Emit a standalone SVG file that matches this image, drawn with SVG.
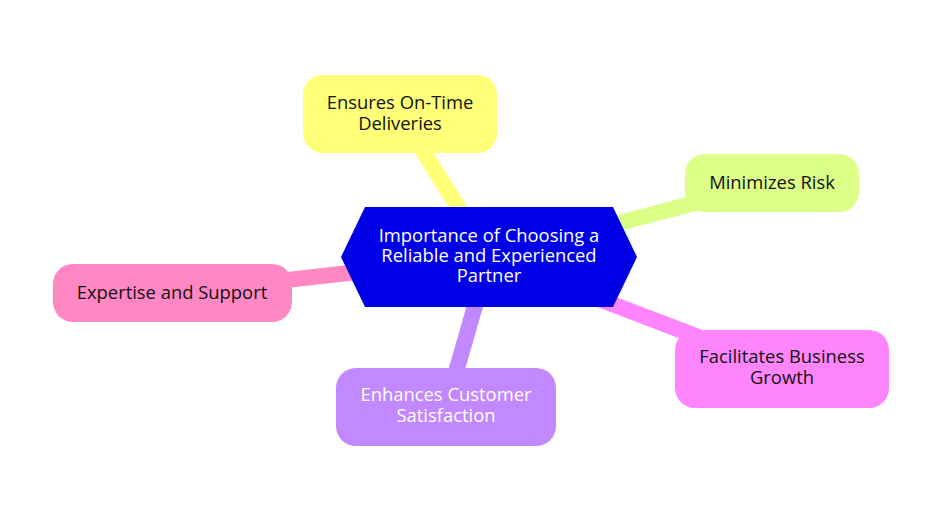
<svg xmlns="http://www.w3.org/2000/svg" width="948" height="518" viewBox="0 0 948 518">
<style>
  .edge { fill: none; stroke-linecap: butt; stroke-width: 16; }
  .lbl { font-family: "Open Sans", "Noto Sans", sans-serif; font-size: 18.4px; text-anchor: middle; fill: #111; }
  .light { fill: #fff; }
</style>
<rect width="948" height="518" fill="#fff"/>
<g id="connectors">
  <line class="edge" x1="489" y1="257" x2="400" y2="114" stroke="#ffff78"/>
  <line class="edge" x1="489" y1="257" x2="772" y2="183" stroke="#dcff87"/>
  <line class="edge" x1="489" y1="257" x2="782" y2="369" stroke="#ff85ff"/>
  <line class="edge" x1="489" y1="257" x2="446" y2="407" stroke="#c288ff"/>
  <line class="edge" x1="489" y1="257" x2="172" y2="293" stroke="#ff88c4"/>
</g>
<g id="root">
  <polygon points="341,257 365,207 613,207 637,257 613,307 365,307" fill="#0000e6"/>
  <text class="lbl light" x="489" y="242">Importance of Choosing a</text>
  <text class="lbl light" x="489" y="262">Reliable and Experienced</text>
  <text class="lbl light" x="489" y="282">Partner</text>
</g>
<g id="n-deliveries">
  <rect x="303" y="75" width="194" height="78" rx="20" fill="#ffff78"/>
  <text class="lbl" x="400" y="109">Ensures On-Time</text>
  <text class="lbl" x="400" y="130">Deliveries</text>
</g>
<g id="n-risk">
  <rect x="685" y="154" width="174" height="58" rx="20" fill="#dcff87"/>
  <text class="lbl" x="772" y="189">Minimizes Risk</text>
</g>
<g id="n-growth">
  <rect x="675" y="330" width="214" height="78" rx="20" fill="#ff85ff"/>
  <text class="lbl" x="782" y="363">Facilitates Business</text>
  <text class="lbl" x="782" y="384">Growth</text>
</g>
<g id="n-satisfaction">
  <rect x="336" y="368" width="220" height="78" rx="20" fill="#c288ff"/>
  <text class="lbl light" x="446" y="401">Enhances Customer</text>
  <text class="lbl light" x="446" y="422">Satisfaction</text>
</g>
<g id="n-expertise">
  <rect x="53" y="264" width="239" height="58" rx="20" fill="#ff88c4"/>
  <text class="lbl" x="172" y="299">Expertise and Support</text>
</g>
</svg>
